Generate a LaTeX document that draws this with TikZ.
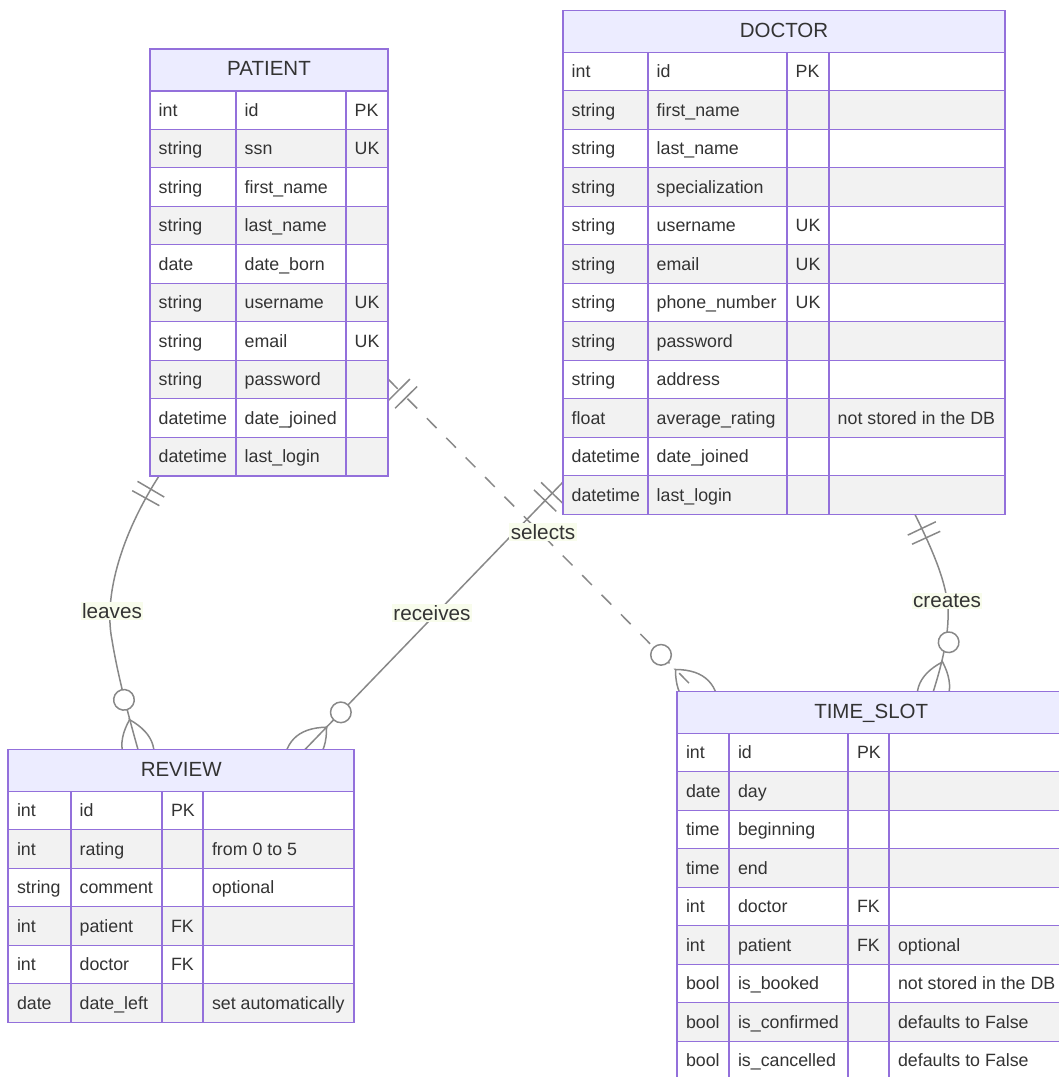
\documentclass[tikz,border=0pt]{standalone}
\usepackage{fontspec}
\setmainfont{Liberation Sans}
\usepackage{etoolbox}
\usetikzlibrary{calc,decorations.markings}
\definecolor{hdrc}{HTML}{ECECFF}
\definecolor{gridc}{HTML}{9370DB}
\definecolor{rowg}{HTML}{F2F2F2}
\definecolor{textc}{HTML}{333333}
\definecolor{edgec}{HTML}{888888}
\definecolor{lblbg}{HTML}{F8FCEC}

\newcommand{\erframe}[5]{%
  \fill[hdrc] (#1,#3) rectangle (#2,#3+42);
  \foreach \ri in {1,...,#4}{%
    \pgfmathsetmacro\ya{#3+42+(\ri-1)*38.5}%
    \pgfmathsetmacro\yb{\ya+38.5}%
    \ifodd\ri \fill[white] (#1,\ya) rectangle (#2,\yb); \else \fill[rowg] (#1,\ya) rectangle (#2,\yb); \fi
    \draw[gridl] (#1,\yb) -- (#2,\yb);
  }%
  \pgfmathsetmacro\ybot{#3+42+#4*38.5}%
  \foreach \cx in {#5}{\draw[gridl] (\cx,#3+42) -- (\cx,\ybot);}%
  \draw[gridl] (#1,#3+42) -- (#2,#3+42);
  \draw[gridl] (#1,#3) rectangle (#2,\ybot);
}
\newcommand{\ertext}[7]{%
  \foreach \ta/\tb/\tc/\td [count=\ri] in {#7}{%
    \pgfmathsetmacro\yc{#2+42+(\ri-0.5)*38.5}%
    \node[cell] (#1a\ri) at (#3,\yc) {\ta};
    \node[cell] (#1b\ri) at (#4,\yc) {\tb};
    \ifdefempty{\tc}{}{\node[cell] (#1c\ri) at (#5,\yc) {\tc};}%
    \ifdefempty{\td}{}{\node[cell] (#1d\ri) at (#6,\yc) {\td};}%
  }}

\begin{document}
\begin{tikzpicture}[x=1pt,y=-1pt,
  entbox/.style={anchor=north west,inner sep=0pt,outer sep=0pt,draw=none},
  gridl/.style={draw=gridc,line width=1.7pt},
  cell/.style={anchor=west,inner sep=0pt,text=textc,text height=15.5pt,text depth=3.5pt,font=\fontsize{17.8}{20}\selectfont},
  hdrtxt/.style={inner sep=0pt,text=textc,text height=15pt,text depth=4pt,font=\fontsize{20.5}{24}\selectfont},
  lbl/.style={fill=lblbg,text=textc,inner sep=1.5pt,font=\fontsize{20.7}{24}\selectfont},
  relline/.style={draw=edgec,line width=1.5pt},
  dashrel/.style={dash pattern=on 13.8pt off 13.8pt},
  mk/.style={draw=edgec,line width=1.5pt,solid},
  onestart/.style={postaction={decorate,decoration={markings,
     mark=at position 15.5pt with {\draw[mk] (0pt,-15.5pt) -- (0pt,15.5pt);},
     mark=at position 25.8pt with {\draw[mk] (0pt,-15.5pt) -- (0pt,15.5pt);}}}},
  zmend/.style={postaction={decorate,decoration={markings,
     mark=at position -0.01pt with {\draw[mk] (-31pt,0pt) .. controls (-10.3pt,20.7pt) and (10.3pt,20.7pt) .. (31pt,0pt) .. controls (10.3pt,-20.7pt) and (-10.3pt,-20.7pt) .. cycle;
       \draw[mk,fill=white] (-51.6pt,0pt) circle (10.3pt);}}}}
]
\useasboundingbox (0,0) rectangle (1059,1077);
\clip (0,0) rectangle (1059,1077);

% entity placeholders
\node[entbox,minimum width=238pt,minimum height=427pt] (patient) at (150,49) {};
\node[entbox,minimum width=442pt,minimum height=504pt] (doctor) at (563,10.5) {};
\node[entbox,minimum width=345.7pt,minimum height=273pt] (review) at (8.3,749.5) {};
\node[entbox,minimum width=387.7pt,minimum height=388.5pt] (timeslot) at (677.3,691.5) {};

% relationships
\draw[relline,onestart,zmend] ($(patient.south west)+(9,0)$) .. controls (118,540) and (104,600) .. (112,640) .. controls (116,665) and (124,700) .. ($(review.north west)+(129.7,0)$);
\draw[relline,onestart,zmend] ($(doctor.north west)+(0,471.5)$) -- ($(review.north west)+(296.7,0)$);
\draw[relline,dashrel,onestart,zmend] ($(patient.north east)+(0,330)$) -- ($(timeslot.north west)+(20,0)$);
\draw[relline,onestart,zmend] ($(doctor.south west)+(352,0)$) .. controls (935,555) and (950,590) .. (948,620) .. controls (947,645) and (940,670) .. ($(timeslot.north west)+(256,0)$);

\node[lbl] (l-leaves) at (112,611) {leaves};
\node[lbl] (l-receives) at (432,613) {receives};
\node[lbl] (l-selects) at (543,532) {selects};
\node[lbl] (l-creates) at (947,601) {creates};

% PATIENT
\erframe{150}{388}{49}{10}{236,346}
\node[hdrtxt] (patient-title) at (269,70) {PATIENT};
\ertext{p}{49}{158.5}{244.5}{354.5}{0}{int/id/PK/, string/ssn/UK/, string/first\_name//, string/last\_name//, date/date\_born//, string/username/UK/, string/email/UK/, string/password//, datetime/date\_joined//, datetime/last\_login//}

% DOCTOR
\erframe{563}{1005}{10.5}{12}{648,787,829}
\node[hdrtxt] (doctor-title) at (784,31.5) {DOCTOR};
\ertext{d}{10.5}{571.5}{656.5}{795.5}{837.5}{int/id/PK/, string/first\_name//, string/last\_name//, string/specialization//, string/username/UK/, string/email/UK/, string/phone\_number/UK/, string/password//, string/address//, float/average\_rating//not stored in the DB, datetime/date\_joined//, datetime/last\_login//}

% REVIEW
\erframe{8.3}{354}{749.5}{6}{71,162.3,203.3}
\node[hdrtxt] (review-title) at (181.2,770.5) {REVIEW};
\ertext{r}{749.5}{16.8}{79.5}{170.8}{211.8}{int/id/PK/, int/rating//from 0 to 5, string/comment//optional, int/patient/FK/, int/doctor/FK/, date/date\_left//set automatically}

% TIME_SLOT
\erframe{677.3}{1065}{691.5}{9}{729.3,848.3,889.3}
\node[hdrtxt] (timeslot-title) at (871.2,712.5) {TIME\_SLOT};
\ertext{t}{691.5}{685.8}{737.8}{856.8}{897.8}{int/id/PK/, date/day//, time/beginning//, time/end//, int/doctor/FK/, int/patient/FK/optional, bool/is\_booked//not stored in the DB, bool/is\_confirmed//defaults to False, bool/is\_cancelled//defaults to False}
\end{tikzpicture}
\end{document}
